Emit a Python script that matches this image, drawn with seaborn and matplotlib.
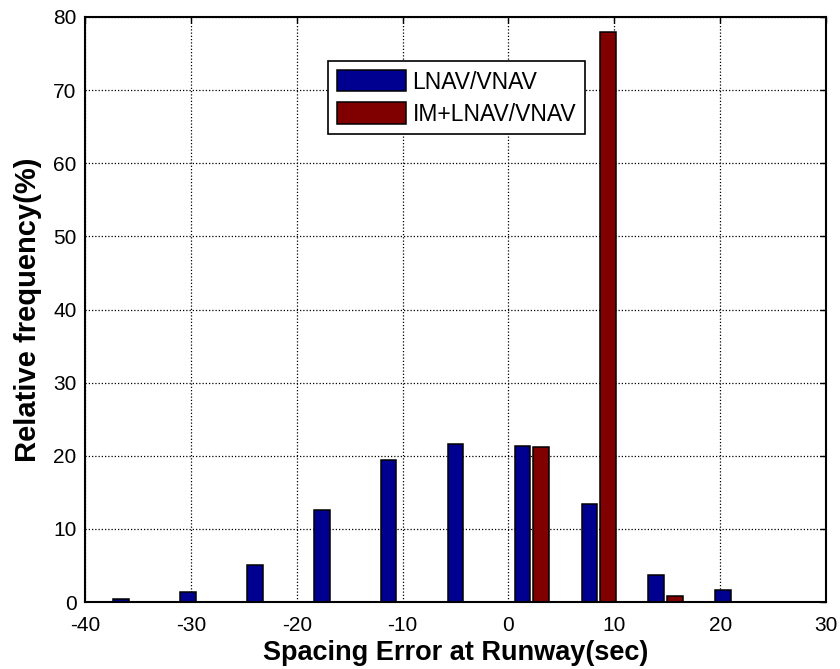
import matplotlib
matplotlib.use("Agg")
import matplotlib.pyplot as plt
import seaborn as sns
import pandas as pd
import numpy as np

# ---- data ----
bin_centers = [-35.72, -29.40, -23.08, -16.76, -10.44, -4.12, 2.20, 8.52, 14.84, 21.16]
lnav_vnav = [0.45, 1.4, 5.1, 12.6, 19.4, 21.65, 21.4, 13.45, 3.7, 1.6]
im_lnav_vnav = [0, 0, 0, 0, 0, 0, 21.15, 78.0, 0.85, 0]
series_names = ["LNAV/VNAV", "IM+LNAV/VNAV"]
x_ticks = [-40, -30, -20, -10, 0, 10, 20, 30]
y_ticks = [0, 10, 20, 30, 40, 50, 60, 70, 80]
x_label = "Spacing Error at Runway(sec)"
y_label = "Relative frequency(%)"

df = pd.DataFrame({
    "x": bin_centers * 2,
    "freq": lnav_vnav + im_lnav_vnav,
    "method": [series_names[0]] * len(bin_centers) + [series_names[1]] * len(bin_centers),
})

sns.set_style("white")
plt.rcParams["font.family"] = ["Liberation Sans", "DejaVu Sans"]
plt.rcParams["text.color"] = "black"
plt.rcParams["axes.labelcolor"] = "black"
plt.rcParams["xtick.color"] = "black"
plt.rcParams["ytick.color"] = "black"

fig = plt.figure(figsize=(8.4, 6.69), dpi=100)
ax = fig.add_axes([85 / 840, 1 - 602 / 669, 741 / 840, 585 / 669])

palette = {series_names[0]: "#000090", series_names[1]: "#800000"}
sns.barplot(data=df, x="x", y="freq", hue="method", hue_order=series_names,
            native_scale=True, palette=palette, width=0.555, gap=0.16,
            edgecolor="black", linewidth=1.1, saturation=1, errorbar=None, ax=ax)

ax.set_xlim(-40, 30)
ax.set_ylim(0, 80)
ax.set_xticks(x_ticks)
ax.set_yticks(y_ticks)
ax.set_xticklabels([str(v) for v in x_ticks])
ax.set_yticklabels([str(v) for v in y_ticks])

ax.grid(True, which="major", color="black", linestyle=(0, (1, 1.6)), linewidth=0.9)
ax.set_axisbelow(True)

for s in ax.spines.values():
    s.set_visible(True)
    s.set_color("black")
    s.set_linewidth(1.5)

ax.tick_params(axis="both", which="major", direction="in", length=4, width=1,
               top=True, right=True, labelsize=15, colors="black",
               labelcolor="black")
ax.tick_params(axis="x", pad=10)
ax.tick_params(axis="y", pad=6)

ax.set_xlabel(x_label, fontsize=19.5, fontweight="bold", labelpad=4, color="black")
ax.set_ylabel(y_label, fontsize=21, fontweight="bold", labelpad=8, color="black")

handles, labels = ax.get_legend_handles_labels()
leg = ax.legend(handles, labels, loc="upper left", bbox_to_anchor=(0.328, 0.924),
                fontsize=16.5, frameon=True, fancybox=False, framealpha=1,
                edgecolor="black", handlelength=3.0, handleheight=1.05,
                handletextpad=0.3, labelspacing=0.38, borderpad=0.38,
                borderaxespad=0)
leg.get_frame().set_linewidth(1.2)
for t in leg.get_texts():
    t.set_color("black")

fig.savefig("out.png", dpi=100)
